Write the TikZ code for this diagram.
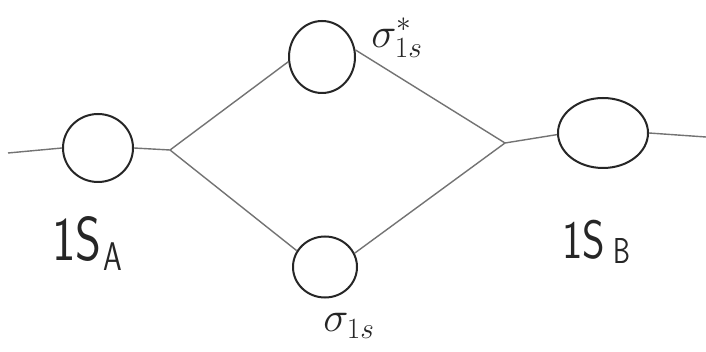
\documentclass[tikz,border=0pt]{standalone}
\usepackage{graphicx}
\usetikzlibrary{shapes.geometric}
\tikzset{
  orb/.style={ellipse, draw=black!85, line width=2pt, inner sep=0pt},
  conn/.style={draw=black!55, line width=1.4pt},
  lbl/.style={inner sep=0pt, text=black!85, font=\sffamily}
}
\begin{document}
\begin{tikzpicture}[x=1pt,y=-1pt]
\useasboundingbox[fill=white] (0,0) rectangle (706,352);
% orbitals
\node[orb, minimum width=70pt, minimum height=68pt] (A) at (98,148) {};
\node[orb, minimum width=90pt, minimum height=70pt] (B) at (603,133) {};
\node[orb, minimum width=66pt, minimum height=72pt] (ss) at (322,57) {};
\node[orb, minimum width=64pt, minimum height=61pt] (s) at (325,267) {};
% junctions and free ends
\coordinate (la) at (8,153);
\coordinate (jl) at (170,150);
\coordinate (jr) at (505,143);
\coordinate (rb) at (706,137);
% connectors
\draw[conn] (la) -- (A.west);
\draw[conn] (A.east) -- (jl);
\draw[conn] (jl) -- (ss.188);
\draw[conn] (jl) -- (s.150);
\draw[conn] (ss.12) -- (jr);
\draw[conn] (s.25) -- (jr);
\draw[conn] (jr) -- (B.182);
\draw[conn] (B.east) -- (rb);
% labels
\node[lbl, anchor=south west] (tA) at (52,262) {\scalebox{0.8}[1]{\fontsize{62}{62}\selectfont 1S}};
\node[lbl, anchor=north west] (tAs) at (103,243) {\scalebox{0.75}[1]{\fontsize{40}{40}\selectfont A}};
\node[lbl, anchor=south west] (tB) at (562,260) {\scalebox{0.8}[1]{\fontsize{54}{54}\selectfont 1S}};
\node[lbl, anchor=north west] (tBs) at (613,238) {\scalebox{0.75}[1]{\fontsize{36}{36}\selectfont B}};
\node[lbl, anchor=center] (tss) at (397,38) {\scalebox{1.7}{\fontsize{24}{24}\selectfont $\sigma^{*}_{1s}$}};
\node[lbl, anchor=center] (ts) at (349,326) {\scalebox{1.7}{\fontsize{24}{24}\selectfont $\sigma_{1s}$}};
\end{tikzpicture}
\end{document}
